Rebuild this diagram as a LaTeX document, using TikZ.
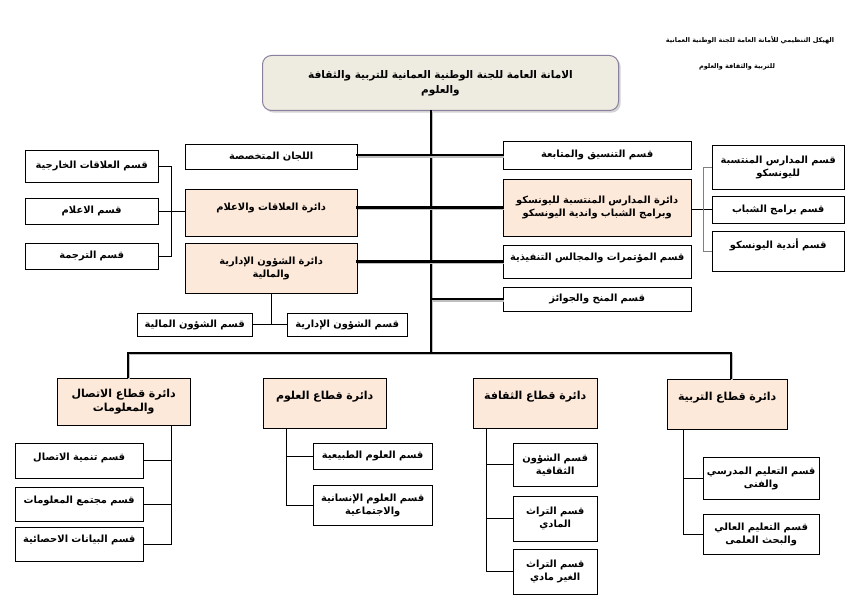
\documentclass[tikz,border=0pt]{standalone}
\usepackage{fontspec}
\newfontfamily\arabicfont[Script=Arabic]{DejaVu Sans}
\TeXXeTstate=1
\usetikzlibrary{shadows}
\newcommand\artxt[1]{\beginR#1\endR}

\tikzset{
    cell/.style={draw, fill=white, inner sep=0pt, anchor=north west, align=center,
        font=\arabicfont\bfseries\fontsize{9.9}{13}\selectfont},
    dept/.style={cell, fill=deptpeach},
    sector/.style={dept, font=\arabicfont\bfseries\fontsize{11}{14.5}\selectfont},
    textup/.style 2 args={text height=#1pt, text depth=#2pt},
    mainline/.style={line width=2.6pt, line cap=rect,
        preaction={draw=black!25, line width=2.6pt, transform canvas={shift={(0.8,1.2)}}}},
    branch/.style={line width=0.8pt},
    graybranch/.style={line width=1pt, draw=black!50},
}

\begin{document}
\begin{tikzpicture}[x=1pt, y=-1pt]
        % Colores
        \definecolor{deptpeach}{RGB}{253, 233, 217}
        \definecolor{genfill}{RGB}{238, 236, 225}
        \definecolor{genline}{RGB}{140, 128, 160}

        \useasboundingbox (0,0) rectangle (867,609);

        % Titulo
        \node[font=\arabicfont\bfseries\fontsize{6.5}{9}\selectfont] (title1) at (750,40) {\artxt{الهيكل التنظيمي للأمانة العامة للجنة الوطنية العمانية}};
        \node[font=\arabicfont\bfseries\fontsize{6.5}{9}\selectfont] (title2) at (737,67) {\artxt{للتربية والثقافة والعلوم}};

        % Caja principal
        \node[cell, text width=356pt, minimum height=55pt, rounded corners=9pt, fill=genfill, draw=genline,
            line width=1pt, drop shadow={opacity=0.35}, font=\arabicfont\bfseries\fontsize{10.5}{15}\selectfont]
            (gen) at (262,55) {\artxt{الامانة العامة للجنة الوطنية العمانية للتربية والثقافة}\\\artxt{والعلوم}};

        % Columna izquierda
        \node[cell, text width=172pt, minimum height=25pt] (lijan) at (185,144) {\artxt{اللجان المتخصصة}};
        \node[dept, text width=172pt, minimum height=47pt, textup={21}{26}] (alaqat) at (185,189) {\artxt{دائرة العلاقات والاعلام}};
        \node[dept, text width=172pt, minimum height=50pt] (shuun) at (185,243) {\artxt{دائرة الشؤون الإدارية}\\\artxt{والمالية}};

        \node[cell, text width=133pt, minimum height=32pt] (kharijia) at (25,150) {\artxt{قسم العلاقات الخارجية}};
        \node[cell, text width=133pt, minimum height=26pt] (ilam) at (25,198) {\artxt{قسم الاعلام}};
        \node[cell, text width=133pt, minimum height=26pt] (tarjama) at (25,243) {\artxt{قسم الترجمة}};

        \node[cell, text width=115pt, minimum height=23pt] (maliya) at (137,313) {\artxt{قسم الشؤون المالية}};
        \node[cell, text width=120pt, minimum height=23pt] (idariya) at (287,313) {\artxt{قسم الشؤون الإدارية}};

        % Columna derecha
        \node[cell, text width=188pt, minimum height=28pt] (tansiq) at (503,141) {\artxt{قسم التنسيق والمتابعة}};
        \node[dept, text width=188pt, minimum height=57pt] (madaris) at (503,179) {\artxt{دائرة المدارس المنتسبة لليونسكو}\\\artxt{وبرامج الشباب واندية اليونسكو}};
        \node[cell, text width=188pt, minimum height=33pt, textup={15}{18}] (mutamarat) at (503,245) {\artxt{قسم المؤتمرات والمجالس التنفيذية}};
        \node[cell, text width=188pt, minimum height=24pt] (minah) at (503,287) {\artxt{قسم المنح والجوائز}};

        \node[cell, text width=132pt, minimum height=44pt] (mdept) at (712,145) {\artxt{قسم المدارس المنتسبة}\\\artxt{لليونسكو}};
        \node[cell, text width=132pt, minimum height=27pt] (shabab) at (712,196) {\artxt{قسم برامج الشباب}};
        \node[cell, text width=132pt, minimum height=40pt, textup={17}{23}] (andiya) at (712,231) {\artxt{قسم أندية اليونسكو}};

        % Sectores
        \node[sector, text width=133pt, minimum height=47pt] (ittisal) at (57,378) {\artxt{دائرة قطاع الاتصال}\\\artxt{والمعلومات}};
        \node[sector, text width=123pt, minimum height=50pt, textup={21}{29}] (ulum) at (263,378) {\artxt{دائرة قطاع العلوم}};
        \node[sector, text width=124pt, minimum height=50pt, textup={21}{29}] (thaqafa) at (473,378) {\artxt{دائرة قطاع الثقافة}};
        \node[sector, text width=120pt, minimum height=50pt, textup={21}{29}] (tarbiya) at (667,379) {\artxt{دائرة قطاع التربية}};

        \node[cell, text width=128pt, minimum height=35pt, textup={17}{18}] (tanmiya) at (15,443) {\artxt{قسم تنمية الاتصال}};
        \node[cell, text width=128pt, minimum height=34pt, textup={16}{18}] (mujtama) at (15,487) {\artxt{قسم مجتمع المعلومات}};
        \node[cell, text width=128pt, minimum height=34pt, textup={15}{19}] (stat) at (15,527) {\artxt{قسم البيانات الاحصائية}};

        \node[cell, text width=119pt, minimum height=26pt] (tabiiya) at (313,443) {\artxt{قسم العلوم الطبيعية}};
        \node[cell, text width=119pt, minimum height=40pt] (insaniya) at (313,485) {\artxt{قسم العلوم الإنسانية}\\\artxt{والاجتماعية}};

        \node[cell, text width=84pt, minimum height=43pt] (shuunth) at (513,443) {\artxt{قسم الشؤون}\\\artxt{الثقافية}};
        \node[cell, text width=84pt, minimum height=45pt] (turath) at (513,496) {\artxt{قسم التراث}\\\artxt{المادي}};
        \node[cell, text width=84pt, minimum height=45pt] (ghayr) at (513,549) {\artxt{قسم التراث}\\\artxt{الغير مادي}};

        \node[cell, text width=116pt, minimum height=42pt] (madrasi) at (703,457) {\artxt{قسم التعليم المدرسي}\\\artxt{والفنى}};
        \node[cell, text width=116pt, minimum height=40pt] (aali) at (703,514) {\artxt{قسم التعليم العالي}\\\artxt{والبحث العلمى}};

        % Eje central y ramas gruesas
        \coordinate (trunktop) at (431,111);
        \coordinate (trunkbot) at (431,353);
        \coordinate (busleft) at (128,353);
        \coordinate (busright) at (731,353);
        \draw[mainline] (trunktop) -- (trunkbot);
        \draw[mainline] (lijan.east |- tansiq.west) -- (tansiq.west);
        \draw[mainline] (alaqat.east |- madaris.west) -- (madaris.west);
        \draw[mainline] (shuun.east |- mutamarat.west) -- (mutamarat.west);
        \draw[mainline] (minah.west) -- (minah.west -| trunktop);
        \draw[mainline, line cap=butt] (busleft |- ittisal.north) -- (busleft) -- (busright) -- (busright |- tarbiya.north);

        % Ramas finas
        \draw[branch] (alaqat.west |- ilam.east) -- (ilam.east);
        \draw[branch] (kharijia.east) -- ++(13,0) |- (tarjama.east);
        \draw[branch] (shuun.south) -- (shuun.south |- idariya.west);
        \draw[branch] (maliya.east) -- (idariya.west);

        \draw[branch] (madaris.east |- shabab.west) -- (shabab.west);
        \draw[graybranch] (mdept.west) -- ++(-9,0) coordinate (rbar) -- (rbar |- andiya.west) -- (andiya.west);

        \draw[branch] ([xshift=-19pt]ittisal.south east) coordinate (ib) |- (stat.east);
        \draw[branch] (tanmiya.east) -- (tanmiya.east -| ib);
        \draw[branch] (mujtama.east) -- (mujtama.east -| ib);

        \draw[branch] ([xshift=23pt]ulum.south west) coordinate (ub) |- (insaniya.west);
        \draw[branch] (tabiiya.west) -- (tabiiya.west -| ub);

        \draw[branch] ([xshift=13pt]thaqafa.south west) coordinate (tb) |- (ghayr.west);
        \draw[branch] (shuunth.west) -- (shuunth.west -| tb);
        \draw[branch] (turath.west) -- (turath.west -| tb);

        \draw[branch] ([xshift=16pt]tarbiya.south west) coordinate (eb) |- (aali.west);
        \draw[branch] (madrasi.west) -- (madrasi.west -| eb);

    \end{tikzpicture}
\end{document}
